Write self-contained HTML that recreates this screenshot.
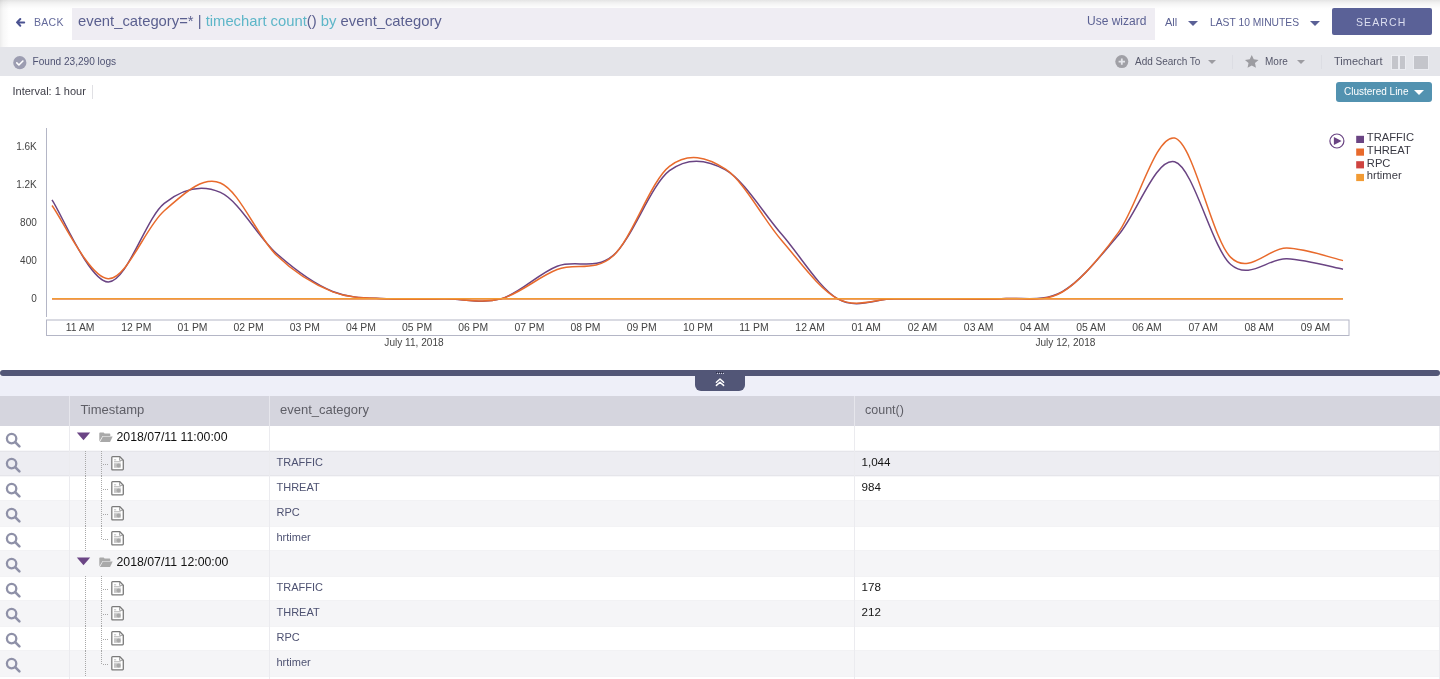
<!DOCTYPE html><html><head><meta charset="utf-8"><title>Search</title><style>
*{box-sizing:border-box;margin:0;padding:0}
html,body{width:1440px;height:679px;overflow:hidden;background:#fff}
body{position:relative;font-family:"Liberation Sans",Arial,sans-serif;color:#333}
.a{position:absolute;white-space:nowrap}
#top{position:absolute;left:0;top:0;width:1440px;height:47px;background:#fff;
  background-image:linear-gradient(180deg,rgba(0,0,0,0.105) 0,rgba(0,0,0,0.085) 1px,rgba(0,0,0,0.06) 2.5px,rgba(0,0,0,0.035) 4.5px,rgba(0,0,0,0.018) 6.5px,rgba(0,0,0,0.008) 8px,rgba(0,0,0,0) 11px),
  linear-gradient(90deg,rgba(0,0,0,0.075) 0,rgba(0,0,0,0.03) 3px,rgba(0,0,0,0.01) 7px,rgba(0,0,0,0) 10px)}
#q{position:absolute;left:72px;top:8px;width:1083px;height:32px;background:#efedf3}
#bar{position:absolute;left:0;top:47px;width:1440px;height:29px;background:#e4e5ea}
.tri{position:absolute;width:0;height:0;border-left:5px solid transparent;border-right:5px solid transparent;border-top:5px solid #5a6096}
.gtri{position:absolute;width:0;height:0;border-left:4px solid transparent;border-right:4px solid transparent;border-top:4.5px solid #9c9ca1}
.vsep{position:absolute;width:1px;background:#dcdde3}
</style></head><body>
<div id="top"></div>
<svg class="a" style="left:15px;top:17px" width="11" height="11" viewBox="0 0 11 11"><path d="M5.3,2 L2,5.4 L5.3,8.8 M2.2,5.4 L9.2,5.4" stroke="#4a5291" stroke-width="2" fill="none" stroke-linecap="round" stroke-linejoin="round"/></svg>
<div class="a" style="left:34px;top:16px;font-size:10.5px;line-height:13px;letter-spacing:0.3px;color:#646a9b">BACK</div>
<div id="q"></div>
<div class="a" style="left:78px;top:11.5px;font-size:14.8px;line-height:18px;color:#5a5f8f">event_category=* | <span style="color:#5db6c8">timechart count</span>() <span style="color:#5db6c8">by</span> event_category</div>
<div class="a" style="left:1087px;top:14px;font-size:12px;line-height:14px;color:#5b6193">Use wizard</div>
<div class="a" style="left:1165px;top:16px;font-size:11px;line-height:13px;color:#5b6193">All</div>
<div class="tri" style="left:1188px;top:20.5px"></div>
<div class="a" style="left:1210px;top:16px;font-size:10.3px;line-height:13px;color:#5b6193">LAST 10 MINUTES</div>
<div class="tri" style="left:1309.5px;top:20.5px"></div>
<div class="a" style="left:1332px;top:8px;width:100px;height:27px;background:#5a6197;border-radius:2px"></div>
<div class="a" style="left:1356px;top:16px;font-size:10.5px;line-height:13px;letter-spacing:1.1px;color:#dcdff0">SEARCH</div>
<div id="bar"></div>
<svg class="a" style="left:12.5px;top:55.5px" width="14" height="14" viewBox="0 0 14 14"><circle cx="6.8" cy="6.7" r="6.6" fill="#9c9db1"/><path d="M3.8,6.9 L5.9,9 L9.9,5" stroke="#fff" stroke-width="1.6" fill="none" stroke-linecap="round" stroke-linejoin="round"/></svg>
<div class="a" style="left:32.5px;top:56px;font-size:10.1px;line-height:12px;color:#4e5272">Found 23,290 logs</div>
<svg class="a" style="left:1115px;top:55px" width="14" height="14" viewBox="0 0 14 14"><circle cx="6.8" cy="6.6" r="6.5" fill="#a0a0a6"/><path d="M6.8,3.4 L6.8,9.8 M3.6,6.6 L10,6.6" stroke="#e4e5ea" stroke-width="1.8"/></svg>
<div class="a" style="left:1135px;top:56px;font-size:10px;line-height:12px;color:#55576a">Add Search To</div>
<div class="gtri" style="left:1208px;top:59.5px"></div>
<div class="vsep" style="left:1232px;top:55px;height:13.5px"></div>
<svg class="a" style="left:1243.5px;top:53.8px" width="15.5" height="15.5" viewBox="0 0 24 24"><path d="M12,1.5 L15.1,8.3 L22.5,9.1 L17,14.1 L18.5,21.4 L12,17.7 L5.5,21.4 L7,14.1 L1.5,9.1 L8.9,8.3 Z" fill="#9c9ca1"/></svg>
<div class="a" style="left:1265px;top:56px;font-size:10px;line-height:12px;color:#55576a">More</div>
<div class="gtri" style="left:1296.5px;top:59.5px"></div>
<div class="vsep" style="left:1321px;top:55px;height:13.5px"></div>
<div class="a" style="left:1334px;top:54.5px;font-size:11px;line-height:13px;color:#55576a">Timechart</div>
<div class="a" style="left:1392px;top:55.5px;width:5.5px;height:13px;background:#c4c5cb;box-shadow:0 0 0 1px #ebecf1"></div>
<div class="a" style="left:1399.5px;top:55.5px;width:5.5px;height:13px;background:#c4c5cb;box-shadow:0 0 0 1px #ebecf1"></div>
<div class="a" style="left:1414px;top:55.5px;width:13.5px;height:13px;background:#c4c5cb;box-shadow:0 0 0 1px #ebecf1"></div>
<div class="a" style="left:12.5px;top:85px;font-size:11px;line-height:13px;color:#3c3c46">Interval: 1 hour</div>
<div class="a" style="left:92px;top:85px;width:1px;height:13.5px;background:#e0e0e4"></div>
<div class="a" style="left:1336px;top:82px;width:96px;height:20px;background:#5292b0;border-radius:3px"></div>
<div class="a" style="left:1344px;top:86px;font-size:10px;line-height:12px;color:#fff">Clustered Line</div>
<div class="a" style="left:1414px;top:90px;width:0;height:0;border-left:5px solid transparent;border-right:5px solid transparent;border-top:5.5px solid #fff"></div>
<svg class="a" style="left:0;top:100px" width="1440" height="260" viewBox="0 100 1440 260" font-family="Liberation Sans, Arial, sans-serif">
<line x1="46.5" y1="128" x2="46.5" y2="317" stroke="#b4b6c6" stroke-width="1"/>
<text x="36.8" y="150.0" font-size="10" fill="#444" text-anchor="end">1.6K</text>
<text x="36.8" y="187.9" font-size="10" fill="#444" text-anchor="end">1.2K</text>
<text x="36.8" y="225.9" font-size="10" fill="#444" text-anchor="end">800</text>
<text x="36.8" y="263.8" font-size="10" fill="#444" text-anchor="end">400</text>
<text x="36.8" y="301.8" font-size="10" fill="#444" text-anchor="end">0</text>
<rect x="46.5" y="320" width="1302.5" height="15.5" fill="none" stroke="#b4b6c6" stroke-width="1"/>
<text x="80.2" y="330.7" font-size="10.4" fill="#444" text-anchor="middle">11 AM</text>
<text x="136.3" y="330.7" font-size="10.4" fill="#444" text-anchor="middle">12 PM</text>
<text x="192.5" y="330.7" font-size="10.4" fill="#444" text-anchor="middle">01 PM</text>
<text x="248.6" y="330.7" font-size="10.4" fill="#444" text-anchor="middle">02 PM</text>
<text x="304.8" y="330.7" font-size="10.4" fill="#444" text-anchor="middle">03 PM</text>
<text x="360.9" y="330.7" font-size="10.4" fill="#444" text-anchor="middle">04 PM</text>
<text x="417.1" y="330.7" font-size="10.4" fill="#444" text-anchor="middle">05 PM</text>
<text x="473.2" y="330.7" font-size="10.4" fill="#444" text-anchor="middle">06 PM</text>
<text x="529.4" y="330.7" font-size="10.4" fill="#444" text-anchor="middle">07 PM</text>
<text x="585.5" y="330.7" font-size="10.4" fill="#444" text-anchor="middle">08 PM</text>
<text x="641.7" y="330.7" font-size="10.4" fill="#444" text-anchor="middle">09 PM</text>
<text x="697.9" y="330.7" font-size="10.4" fill="#444" text-anchor="middle">10 PM</text>
<text x="754.0" y="330.7" font-size="10.4" fill="#444" text-anchor="middle">11 PM</text>
<text x="810.1" y="330.7" font-size="10.4" fill="#444" text-anchor="middle">12 AM</text>
<text x="866.3" y="330.7" font-size="10.4" fill="#444" text-anchor="middle">01 AM</text>
<text x="922.5" y="330.7" font-size="10.4" fill="#444" text-anchor="middle">02 AM</text>
<text x="978.6" y="330.7" font-size="10.4" fill="#444" text-anchor="middle">03 AM</text>
<text x="1034.8" y="330.7" font-size="10.4" fill="#444" text-anchor="middle">04 AM</text>
<text x="1090.9" y="330.7" font-size="10.4" fill="#444" text-anchor="middle">05 AM</text>
<text x="1147.0" y="330.7" font-size="10.4" fill="#444" text-anchor="middle">06 AM</text>
<text x="1203.2" y="330.7" font-size="10.4" fill="#444" text-anchor="middle">07 AM</text>
<text x="1259.3" y="330.7" font-size="10.4" fill="#444" text-anchor="middle">08 AM</text>
<text x="1315.5" y="330.7" font-size="10.4" fill="#444" text-anchor="middle">09 AM</text>
<text x="414" y="345.8" font-size="10.1" fill="#444" text-anchor="middle">July 11, 2018</text>
<text x="1065.4" y="345.8" font-size="10.1" fill="#444" text-anchor="middle">July 12, 2018</text>
<path d="M52.00,199.84 C61.35,213.53 89.42,281.38 108.13,281.97 C126.84,282.55 145.55,218.27 164.26,203.35 C182.97,188.42 201.68,184.08 220.39,192.44 C239.10,200.80 257.81,237.01 276.52,253.52 C295.23,270.02 313.94,283.90 332.65,291.45 C351.36,299.01 370.07,297.62 388.78,298.85 C407.49,300.08 426.20,298.85 444.91,298.85 C463.62,298.85 482.33,304.29 501.04,298.85 C519.75,293.41 538.46,273.46 557.17,266.23 C575.88,258.99 594.59,271.33 613.30,255.41 C632.01,239.50 650.72,184.98 669.43,170.72 C688.14,156.46 706.85,159.28 725.56,169.87 C744.27,180.46 762.98,212.77 781.69,234.26 C800.40,255.76 819.11,288.09 837.82,298.85 C856.53,309.61 875.24,298.85 893.95,298.85 C912.66,298.85 931.37,298.90 950.08,298.85 C968.79,298.80 987.50,299.77 1006.21,298.57 C1024.92,297.36 1043.63,302.23 1062.34,291.64 C1081.05,281.05 1099.76,256.66 1118.47,235.02 C1137.18,213.38 1155.89,156.89 1174.60,161.81 C1193.31,166.72 1212.02,248.35 1230.73,264.52 C1249.44,280.69 1268.15,258.04 1286.86,258.83 C1305.57,259.62 1333.63,267.52 1342.99,269.26" stroke="#6a4483" stroke-width="1.5" fill="none"/>
<path d="M52.00,205.53 C61.35,217.73 89.42,277.87 108.13,278.74 C126.84,279.61 145.55,226.71 164.26,210.74 C182.97,194.78 201.68,175.53 220.39,182.96 C239.10,190.38 257.81,237.17 276.52,255.32 C295.23,273.46 313.94,284.58 332.65,291.83 C351.36,299.09 370.07,297.68 388.78,298.85 C407.49,300.02 426.20,298.85 444.91,298.85 C463.62,298.85 482.33,303.73 501.04,298.85 C519.75,293.97 538.46,276.74 557.17,269.54 C575.88,262.35 594.59,272.90 613.30,255.70 C632.01,238.50 650.72,180.77 669.43,166.36 C688.14,151.94 706.85,156.84 725.56,169.20 C744.27,181.56 762.98,218.92 781.69,240.52 C800.40,262.13 819.11,289.13 837.82,298.85 C856.53,308.57 875.24,298.85 893.95,298.85 C912.66,298.85 931.37,298.90 950.08,298.85 C968.79,298.80 987.50,299.70 1006.21,298.57 C1024.92,297.43 1043.63,303.05 1062.34,292.02 C1081.05,280.99 1099.76,258.02 1118.47,232.37 C1137.18,206.71 1155.89,133.92 1174.60,138.10 C1193.31,142.27 1212.02,239.08 1230.73,257.40 C1249.44,275.72 1268.15,247.48 1286.86,248.02 C1305.57,248.55 1333.63,258.53 1342.99,260.63" stroke="#e86a2c" stroke-width="1.5" fill="none"/>
<path d="M52.0,298.85 L1342.99,298.85" stroke="#cf4440" stroke-width="1.5" fill="none"/>
<path d="M52.0,298.85 L1342.99,298.85" stroke="#f29b34" stroke-width="1.5" fill="none"/>
<circle cx="1336.9" cy="141" r="7" fill="none" stroke="#6a4483" stroke-width="1.2"/>
<path d="M1333.9,136.9 L1341.6,141 L1333.9,145.1 Z" fill="#6a4483"/>
<rect x="1356.2" y="135.8" width="7.8" height="7.2" fill="#6a4483"/>
<text x="1366.8" y="141.2" font-size="11.2" fill="#3a3a44">TRAFFIC</text>
<rect x="1356.2" y="148.5" width="7.8" height="7.2" fill="#e86a2c"/>
<text x="1366.8" y="153.9" font-size="11.2" fill="#3a3a44">THREAT</text>
<rect x="1356.2" y="161.2" width="7.8" height="7.2" fill="#cf4440"/>
<text x="1366.8" y="166.6" font-size="11.2" fill="#3a3a44">RPC</text>
<rect x="1356.2" y="173.9" width="7.8" height="7.2" fill="#f29b34"/>
<text x="1366.8" y="179.3" font-size="11.2" fill="#3a3a44">hrtimer</text>
</svg>
<div class="a" style="left:0;top:370px;width:1440px;height:5.5px;background:#525677;border-radius:3px"></div>
<div class="a" style="left:0;top:375.5px;width:1440px;height:20.5px;background:#eeeff8"></div>
<div class="a" style="left:695px;top:372px;width:50px;height:18.5px;background:#525677;border-radius:0 0 6px 6px"></div>
<div class="a" style="left:716px;top:372px;width:8px;height:1px;background:repeating-linear-gradient(90deg,#2c2f44 0 1px,transparent 1px 2px)"></div>
<div class="a" style="left:717px;top:373px;width:8px;height:1px;background:repeating-linear-gradient(90deg,#d0d2e0 0 1px,transparent 1px 2px)"></div>
<svg class="a" style="left:714px;top:376px" width="12" height="11" viewBox="0 0 12 11"><path d="M2.4,6.2 L6,3 L9.6,6.2 M2.4,9.4 L6,6.2 L9.6,9.4" stroke="#fff" stroke-width="1.5" fill="none" stroke-linecap="round" stroke-linejoin="round"/></svg>
<div class="a" style="left:0;top:396px;width:1440px;height:29.5px;background:#d5d5de"></div>
<div class="a" style="left:69px;top:396px;width:1px;height:29.5px;background:#e6e6ec"></div>
<div class="a" style="left:268.5px;top:396px;width:1px;height:29.5px;background:#e6e6ec"></div>
<div class="a" style="left:854px;top:396px;width:1px;height:29.5px;background:#e6e6ec"></div>
<div class="a" style="left:80.4px;top:402px;font-size:13px;line-height:16px;color:#5e5e66">Timestamp</div>
<div class="a" style="left:280px;top:402px;font-size:13px;line-height:16px;color:#5e5e66">event_category</div>
<div class="a" style="left:865px;top:402px;font-size:12.5px;line-height:16px;color:#5e5e66">count()</div>
<div class="a" style="left:0;top:426px;width:1440px;height:253px;background:#fff"></div>
<div class="a" style="left:0;top:450px;width:1440px;height:27px;background:#ededf2;box-shadow:inset 0 1px 0 #f7f7f9, inset 0 2px 0 #e5e5ea, inset 0 -1px 0 #f7f7f9, inset 0 -2px 0 #e5e5ea"></div>
<div class="a" style="left:0;top:500px;width:1440px;height:27px;background:#f5f5f7;box-shadow:inset 0 1px 0 #f2f2f4, inset 0 -1px 0 #f3f3f5"></div>
<div class="a" style="left:0;top:550px;width:1440px;height:27px;background:#f5f5f7;box-shadow:inset 0 1px 0 #f2f2f4, inset 0 -1px 0 #f3f3f5"></div>
<div class="a" style="left:0;top:600px;width:1440px;height:27px;background:#f5f5f7;box-shadow:inset 0 1px 0 #f2f2f4, inset 0 -1px 0 #f3f3f5"></div>
<div class="a" style="left:0;top:650px;width:1440px;height:27px;background:#f5f5f7;box-shadow:inset 0 1px 0 #f2f2f4, inset 0 -1px 0 #f3f3f5"></div>
<div class="a" style="left:69px;top:425.5px;width:1px;height:254px;background:#ebebef"></div>
<div class="a" style="left:268.5px;top:425.5px;width:1px;height:254px;background:#ebebef"></div>
<div class="a" style="left:854px;top:425.5px;width:1px;height:254px;background:#ebebef"></div>
<div class="a" style="left:1439px;top:425.5px;width:1px;height:254px;background:#ebebef"></div>
<svg class="a" style="left:5px;top:432px" width="18" height="18" viewBox="0 0 18 18"><circle cx="6.6" cy="6.6" r="4.7" fill="none" stroke="#8f91a8" stroke-width="2.3"/><path d="M10.2,10.2 L14.4,14.4" stroke="#8f91a8" stroke-width="2.6" stroke-linecap="round"/></svg>
<svg class="a" style="left:76px;top:432px" width="15" height="9" viewBox="0 0 15 9"><path d="M0.8,0.6 L14.2,0.6 L7.5,8.2 Z" fill="#6b4585"/></svg>
<svg class="a" style="left:99px;top:432.2px" width="15" height="11" viewBox="0 0 15 11"><path d="M0.3,1.2 Q0.3,0.4 1.1,0.4 L4.6,0.4 L5.6,1.6 L10.6,1.6 Q11.3,1.6 11.3,2.4 L11.3,4.1 L3.6,4.1 L0.3,9.4 Z" fill="#a9a9a9"/><path d="M3.9,4.6 L13.7,4.6 L11.0,9.9 L0.9,9.9 Z" fill="#a9a9a9"/></svg>
<div class="a" style="left:116.5px;top:430px;font-size:12.3px;line-height:14px;color:#111">2018/07/11 11:00:00</div>
<svg class="a" style="left:5px;top:457px" width="18" height="18" viewBox="0 0 18 18"><circle cx="6.6" cy="6.6" r="4.7" fill="none" stroke="#8f91a8" stroke-width="2.3"/><path d="M10.2,10.2 L14.4,14.4" stroke="#8f91a8" stroke-width="2.6" stroke-linecap="round"/></svg>
<div class="a" style="left:85px;top:451px;width:1px;height:25px;background:repeating-linear-gradient(180deg,#a8a8a8 0 1px,transparent 1px 2px)"></div>
<div class="a" style="left:101px;top:451px;width:1px;height:25px;background:repeating-linear-gradient(180deg,#a8a8a8 0 1px,transparent 1px 2px)"></div>
<div class="a" style="left:102px;top:464px;width:6px;height:1px;background:repeating-linear-gradient(90deg,transparent 0 1px,#a8a8a8 1px 2px)"></div>
<svg class="a" style="left:111px;top:456px" width="14" height="15" viewBox="0 0 14 15"><path d="M1.6,0.7 L8.8,0.7 L12.3,4.2 L12.3,13.1 Q12.3,13.9 11.5,13.9 L1.6,13.9 Q0.8,13.9 0.8,13.1 L0.8,1.5 Q0.8,0.7 1.6,0.7 Z" fill="#fff" stroke="#7a7a7a" stroke-width="1.3"/><path d="M8.6,1 L8.6,4.4 L12,4.4" fill="none" stroke="#9a9a9a" stroke-width="0.9"/><rect x="3" y="3.4" width="2.2" height="0.9" fill="#b0b0b0"/><rect x="3" y="5.2" width="6.8" height="1.1" fill="#b8b8b8"/><rect x="3" y="7.2" width="6.8" height="4.6" fill="#c4c4c4"/><circle cx="7.6" cy="9.6" r="2" fill="#a8a8a8"/></svg>
<div class="a" style="left:276.5px;top:455.6px;font-size:11px;line-height:13px;color:#4e5272">TRAFFIC</div>
<div class="a" style="left:861.5px;top:455px;font-size:11.6px;line-height:14px;color:#151515">1,044</div>
<svg class="a" style="left:5px;top:482px" width="18" height="18" viewBox="0 0 18 18"><circle cx="6.6" cy="6.6" r="4.7" fill="none" stroke="#8f91a8" stroke-width="2.3"/><path d="M10.2,10.2 L14.4,14.4" stroke="#8f91a8" stroke-width="2.6" stroke-linecap="round"/></svg>
<div class="a" style="left:85px;top:476px;width:1px;height:25px;background:repeating-linear-gradient(180deg,#a8a8a8 0 1px,transparent 1px 2px)"></div>
<div class="a" style="left:101px;top:476px;width:1px;height:25px;background:repeating-linear-gradient(180deg,#a8a8a8 0 1px,transparent 1px 2px)"></div>
<div class="a" style="left:102px;top:489px;width:6px;height:1px;background:repeating-linear-gradient(90deg,transparent 0 1px,#a8a8a8 1px 2px)"></div>
<svg class="a" style="left:111px;top:481px" width="14" height="15" viewBox="0 0 14 15"><path d="M1.6,0.7 L8.8,0.7 L12.3,4.2 L12.3,13.1 Q12.3,13.9 11.5,13.9 L1.6,13.9 Q0.8,13.9 0.8,13.1 L0.8,1.5 Q0.8,0.7 1.6,0.7 Z" fill="#fff" stroke="#7a7a7a" stroke-width="1.3"/><path d="M8.6,1 L8.6,4.4 L12,4.4" fill="none" stroke="#9a9a9a" stroke-width="0.9"/><rect x="3" y="3.4" width="2.2" height="0.9" fill="#b0b0b0"/><rect x="3" y="5.2" width="6.8" height="1.1" fill="#b8b8b8"/><rect x="3" y="7.2" width="6.8" height="4.6" fill="#c4c4c4"/><circle cx="7.6" cy="9.6" r="2" fill="#a8a8a8"/></svg>
<div class="a" style="left:276.5px;top:480.6px;font-size:11px;line-height:13px;color:#4e5272">THREAT</div>
<div class="a" style="left:861.5px;top:480px;font-size:11.6px;line-height:14px;color:#151515">984</div>
<svg class="a" style="left:5px;top:507px" width="18" height="18" viewBox="0 0 18 18"><circle cx="6.6" cy="6.6" r="4.7" fill="none" stroke="#8f91a8" stroke-width="2.3"/><path d="M10.2,10.2 L14.4,14.4" stroke="#8f91a8" stroke-width="2.6" stroke-linecap="round"/></svg>
<div class="a" style="left:85px;top:501px;width:1px;height:25px;background:repeating-linear-gradient(180deg,#a8a8a8 0 1px,transparent 1px 2px)"></div>
<div class="a" style="left:101px;top:501px;width:1px;height:25px;background:repeating-linear-gradient(180deg,#a8a8a8 0 1px,transparent 1px 2px)"></div>
<div class="a" style="left:102px;top:514px;width:6px;height:1px;background:repeating-linear-gradient(90deg,transparent 0 1px,#a8a8a8 1px 2px)"></div>
<svg class="a" style="left:111px;top:506px" width="14" height="15" viewBox="0 0 14 15"><path d="M1.6,0.7 L8.8,0.7 L12.3,4.2 L12.3,13.1 Q12.3,13.9 11.5,13.9 L1.6,13.9 Q0.8,13.9 0.8,13.1 L0.8,1.5 Q0.8,0.7 1.6,0.7 Z" fill="#fff" stroke="#7a7a7a" stroke-width="1.3"/><path d="M8.6,1 L8.6,4.4 L12,4.4" fill="none" stroke="#9a9a9a" stroke-width="0.9"/><rect x="3" y="3.4" width="2.2" height="0.9" fill="#b0b0b0"/><rect x="3" y="5.2" width="6.8" height="1.1" fill="#b8b8b8"/><rect x="3" y="7.2" width="6.8" height="4.6" fill="#c4c4c4"/><circle cx="7.6" cy="9.6" r="2" fill="#a8a8a8"/></svg>
<div class="a" style="left:276.5px;top:505.6px;font-size:11px;line-height:13px;color:#4e5272">RPC</div>
<svg class="a" style="left:5px;top:532px" width="18" height="18" viewBox="0 0 18 18"><circle cx="6.6" cy="6.6" r="4.7" fill="none" stroke="#8f91a8" stroke-width="2.3"/><path d="M10.2,10.2 L14.4,14.4" stroke="#8f91a8" stroke-width="2.6" stroke-linecap="round"/></svg>
<div class="a" style="left:85px;top:526px;width:1px;height:25px;background:repeating-linear-gradient(180deg,#a8a8a8 0 1px,transparent 1px 2px)"></div>
<div class="a" style="left:101px;top:526px;width:1px;height:14px;background:repeating-linear-gradient(180deg,#a8a8a8 0 1px,transparent 1px 2px)"></div>
<div class="a" style="left:102px;top:539px;width:6px;height:1px;background:repeating-linear-gradient(90deg,transparent 0 1px,#a8a8a8 1px 2px)"></div>
<svg class="a" style="left:111px;top:531px" width="14" height="15" viewBox="0 0 14 15"><path d="M1.6,0.7 L8.8,0.7 L12.3,4.2 L12.3,13.1 Q12.3,13.9 11.5,13.9 L1.6,13.9 Q0.8,13.9 0.8,13.1 L0.8,1.5 Q0.8,0.7 1.6,0.7 Z" fill="#fff" stroke="#7a7a7a" stroke-width="1.3"/><path d="M8.6,1 L8.6,4.4 L12,4.4" fill="none" stroke="#9a9a9a" stroke-width="0.9"/><rect x="3" y="3.4" width="2.2" height="0.9" fill="#b0b0b0"/><rect x="3" y="5.2" width="6.8" height="1.1" fill="#b8b8b8"/><rect x="3" y="7.2" width="6.8" height="4.6" fill="#c4c4c4"/><circle cx="7.6" cy="9.6" r="2" fill="#a8a8a8"/></svg>
<div class="a" style="left:276.5px;top:530.6px;font-size:11px;line-height:13px;color:#4e5272">hrtimer</div>
<svg class="a" style="left:5px;top:557px" width="18" height="18" viewBox="0 0 18 18"><circle cx="6.6" cy="6.6" r="4.7" fill="none" stroke="#8f91a8" stroke-width="2.3"/><path d="M10.2,10.2 L14.4,14.4" stroke="#8f91a8" stroke-width="2.6" stroke-linecap="round"/></svg>
<svg class="a" style="left:76px;top:557px" width="15" height="9" viewBox="0 0 15 9"><path d="M0.8,0.6 L14.2,0.6 L7.5,8.2 Z" fill="#6b4585"/></svg>
<svg class="a" style="left:99px;top:557.2px" width="15" height="11" viewBox="0 0 15 11"><path d="M0.3,1.2 Q0.3,0.4 1.1,0.4 L4.6,0.4 L5.6,1.6 L10.6,1.6 Q11.3,1.6 11.3,2.4 L11.3,4.1 L3.6,4.1 L0.3,9.4 Z" fill="#a9a9a9"/><path d="M3.9,4.6 L13.7,4.6 L11.0,9.9 L0.9,9.9 Z" fill="#a9a9a9"/></svg>
<div class="a" style="left:116.5px;top:555px;font-size:12.3px;line-height:14px;color:#111">2018/07/11 12:00:00</div>
<svg class="a" style="left:5px;top:582px" width="18" height="18" viewBox="0 0 18 18"><circle cx="6.6" cy="6.6" r="4.7" fill="none" stroke="#8f91a8" stroke-width="2.3"/><path d="M10.2,10.2 L14.4,14.4" stroke="#8f91a8" stroke-width="2.6" stroke-linecap="round"/></svg>
<div class="a" style="left:85px;top:576px;width:1px;height:25px;background:repeating-linear-gradient(180deg,#a8a8a8 0 1px,transparent 1px 2px)"></div>
<div class="a" style="left:101px;top:576px;width:1px;height:25px;background:repeating-linear-gradient(180deg,#a8a8a8 0 1px,transparent 1px 2px)"></div>
<div class="a" style="left:102px;top:589px;width:6px;height:1px;background:repeating-linear-gradient(90deg,transparent 0 1px,#a8a8a8 1px 2px)"></div>
<svg class="a" style="left:111px;top:581px" width="14" height="15" viewBox="0 0 14 15"><path d="M1.6,0.7 L8.8,0.7 L12.3,4.2 L12.3,13.1 Q12.3,13.9 11.5,13.9 L1.6,13.9 Q0.8,13.9 0.8,13.1 L0.8,1.5 Q0.8,0.7 1.6,0.7 Z" fill="#fff" stroke="#7a7a7a" stroke-width="1.3"/><path d="M8.6,1 L8.6,4.4 L12,4.4" fill="none" stroke="#9a9a9a" stroke-width="0.9"/><rect x="3" y="3.4" width="2.2" height="0.9" fill="#b0b0b0"/><rect x="3" y="5.2" width="6.8" height="1.1" fill="#b8b8b8"/><rect x="3" y="7.2" width="6.8" height="4.6" fill="#c4c4c4"/><circle cx="7.6" cy="9.6" r="2" fill="#a8a8a8"/></svg>
<div class="a" style="left:276.5px;top:580.6px;font-size:11px;line-height:13px;color:#4e5272">TRAFFIC</div>
<div class="a" style="left:861.5px;top:580px;font-size:11.6px;line-height:14px;color:#151515">178</div>
<svg class="a" style="left:5px;top:607px" width="18" height="18" viewBox="0 0 18 18"><circle cx="6.6" cy="6.6" r="4.7" fill="none" stroke="#8f91a8" stroke-width="2.3"/><path d="M10.2,10.2 L14.4,14.4" stroke="#8f91a8" stroke-width="2.6" stroke-linecap="round"/></svg>
<div class="a" style="left:85px;top:601px;width:1px;height:25px;background:repeating-linear-gradient(180deg,#a8a8a8 0 1px,transparent 1px 2px)"></div>
<div class="a" style="left:101px;top:601px;width:1px;height:25px;background:repeating-linear-gradient(180deg,#a8a8a8 0 1px,transparent 1px 2px)"></div>
<div class="a" style="left:102px;top:614px;width:6px;height:1px;background:repeating-linear-gradient(90deg,transparent 0 1px,#a8a8a8 1px 2px)"></div>
<svg class="a" style="left:111px;top:606px" width="14" height="15" viewBox="0 0 14 15"><path d="M1.6,0.7 L8.8,0.7 L12.3,4.2 L12.3,13.1 Q12.3,13.9 11.5,13.9 L1.6,13.9 Q0.8,13.9 0.8,13.1 L0.8,1.5 Q0.8,0.7 1.6,0.7 Z" fill="#fff" stroke="#7a7a7a" stroke-width="1.3"/><path d="M8.6,1 L8.6,4.4 L12,4.4" fill="none" stroke="#9a9a9a" stroke-width="0.9"/><rect x="3" y="3.4" width="2.2" height="0.9" fill="#b0b0b0"/><rect x="3" y="5.2" width="6.8" height="1.1" fill="#b8b8b8"/><rect x="3" y="7.2" width="6.8" height="4.6" fill="#c4c4c4"/><circle cx="7.6" cy="9.6" r="2" fill="#a8a8a8"/></svg>
<div class="a" style="left:276.5px;top:605.6px;font-size:11px;line-height:13px;color:#4e5272">THREAT</div>
<div class="a" style="left:861.5px;top:605px;font-size:11.6px;line-height:14px;color:#151515">212</div>
<svg class="a" style="left:5px;top:632px" width="18" height="18" viewBox="0 0 18 18"><circle cx="6.6" cy="6.6" r="4.7" fill="none" stroke="#8f91a8" stroke-width="2.3"/><path d="M10.2,10.2 L14.4,14.4" stroke="#8f91a8" stroke-width="2.6" stroke-linecap="round"/></svg>
<div class="a" style="left:85px;top:626px;width:1px;height:25px;background:repeating-linear-gradient(180deg,#a8a8a8 0 1px,transparent 1px 2px)"></div>
<div class="a" style="left:101px;top:626px;width:1px;height:25px;background:repeating-linear-gradient(180deg,#a8a8a8 0 1px,transparent 1px 2px)"></div>
<div class="a" style="left:102px;top:639px;width:6px;height:1px;background:repeating-linear-gradient(90deg,transparent 0 1px,#a8a8a8 1px 2px)"></div>
<svg class="a" style="left:111px;top:631px" width="14" height="15" viewBox="0 0 14 15"><path d="M1.6,0.7 L8.8,0.7 L12.3,4.2 L12.3,13.1 Q12.3,13.9 11.5,13.9 L1.6,13.9 Q0.8,13.9 0.8,13.1 L0.8,1.5 Q0.8,0.7 1.6,0.7 Z" fill="#fff" stroke="#7a7a7a" stroke-width="1.3"/><path d="M8.6,1 L8.6,4.4 L12,4.4" fill="none" stroke="#9a9a9a" stroke-width="0.9"/><rect x="3" y="3.4" width="2.2" height="0.9" fill="#b0b0b0"/><rect x="3" y="5.2" width="6.8" height="1.1" fill="#b8b8b8"/><rect x="3" y="7.2" width="6.8" height="4.6" fill="#c4c4c4"/><circle cx="7.6" cy="9.6" r="2" fill="#a8a8a8"/></svg>
<div class="a" style="left:276.5px;top:630.6px;font-size:11px;line-height:13px;color:#4e5272">RPC</div>
<svg class="a" style="left:5px;top:657px" width="18" height="18" viewBox="0 0 18 18"><circle cx="6.6" cy="6.6" r="4.7" fill="none" stroke="#8f91a8" stroke-width="2.3"/><path d="M10.2,10.2 L14.4,14.4" stroke="#8f91a8" stroke-width="2.6" stroke-linecap="round"/></svg>
<div class="a" style="left:85px;top:651px;width:1px;height:25px;background:repeating-linear-gradient(180deg,#a8a8a8 0 1px,transparent 1px 2px)"></div>
<div class="a" style="left:101px;top:651px;width:1px;height:14px;background:repeating-linear-gradient(180deg,#a8a8a8 0 1px,transparent 1px 2px)"></div>
<div class="a" style="left:102px;top:664px;width:6px;height:1px;background:repeating-linear-gradient(90deg,transparent 0 1px,#a8a8a8 1px 2px)"></div>
<svg class="a" style="left:111px;top:656px" width="14" height="15" viewBox="0 0 14 15"><path d="M1.6,0.7 L8.8,0.7 L12.3,4.2 L12.3,13.1 Q12.3,13.9 11.5,13.9 L1.6,13.9 Q0.8,13.9 0.8,13.1 L0.8,1.5 Q0.8,0.7 1.6,0.7 Z" fill="#fff" stroke="#7a7a7a" stroke-width="1.3"/><path d="M8.6,1 L8.6,4.4 L12,4.4" fill="none" stroke="#9a9a9a" stroke-width="0.9"/><rect x="3" y="3.4" width="2.2" height="0.9" fill="#b0b0b0"/><rect x="3" y="5.2" width="6.8" height="1.1" fill="#b8b8b8"/><rect x="3" y="7.2" width="6.8" height="4.6" fill="#c4c4c4"/><circle cx="7.6" cy="9.6" r="2" fill="#a8a8a8"/></svg>
<div class="a" style="left:276.5px;top:655.6px;font-size:11px;line-height:13px;color:#4e5272">hrtimer</div>
</body></html>
